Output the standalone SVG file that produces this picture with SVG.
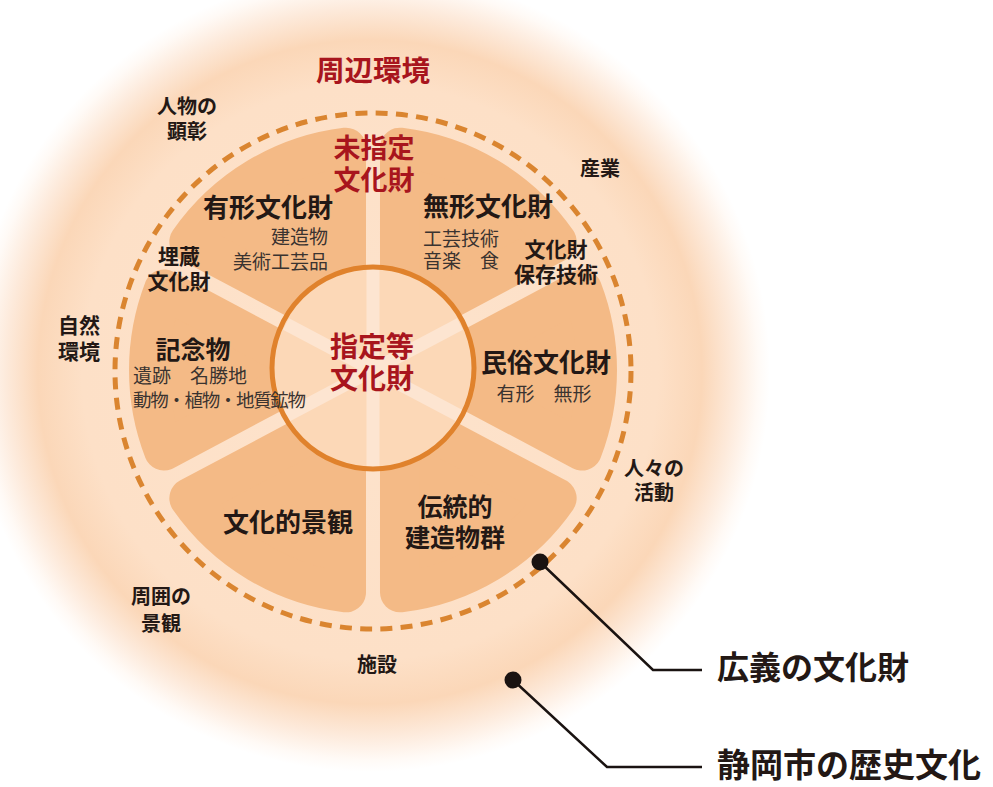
<svg xmlns="http://www.w3.org/2000/svg" width="993" height="787" viewBox="0 0 993 787">
  <defs>
    <radialGradient id="glow" gradientUnits="userSpaceOnUse" cx="370" cy="372" r="400">
      <stop offset="0" stop-color="#fde3cc"/>
      <stop offset="0.72" stop-color="#fde0c7"/>
      <stop offset="0.83" stop-color="#fbd7b8"/>
      <stop offset="0.91" stop-color="#fdeadb"/>
      <stop offset="0.97" stop-color="#fffaf6"/>
      <stop offset="1" stop-color="#ffffff"/>
    </radialGradient>
    <style>
      .wedge { fill: #f4ba86; stroke: #f4ba86; stroke-width: 40; stroke-linejoin: round; }
      .gap { stroke: #fde5d1; stroke-width: 13; stroke-linecap: butt; }
      .t { font-family: "Noto Sans CJK JP", "Noto Sans", sans-serif; fill: #231815; }
      .b { font-weight: 700; }
      .r { font-weight: 400; fill: #3a3330; }
      .red { fill: #a8151d; font-weight: 700; }
      .mid { text-anchor: middle; }
      .lead { fill: none; stroke: #1a1311; stroke-width: 2.5; }
      .dot { fill: #1a1311; }
    </style>
  </defs>

  <rect x="0" y="0" width="993" height="787" fill="#ffffff"/>
  <circle cx="370" cy="372" r="400" fill="url(#glow)"/>

  <!-- dashed boundary (広義の文化財) -->
  <circle id="ring-broad" cx="373" cy="371" r="258" fill="none" stroke="#da8530" stroke-width="5" stroke-dasharray="12 8.3"/>

  <!-- wedges -->
  <g id="node-mukei"><path class="wedge" d="M399.99,325.08 L556.66,241.76 A224,224 0 0 0 399.99,147.63 Z"/></g>
  <g id="node-yukei"><path class="wedge" d="M346.01,325.08 L346.01,147.63 A224,224 0 0 0 189.34,241.76 Z"/></g>
  <g id="node-kinenbutsu"><path class="wedge" d="M315.5,370 L163.99,289.43 A224,224 0 0 0 163.99,450.57 Z"/></g>
  <g id="node-keikan"><path class="wedge" d="M346.01,414.92 L189.34,498.24 A224,224 0 0 0 346.01,592.37 Z"/></g>
  <g id="node-dentou"><path class="wedge" d="M399.99,414.92 L399.99,592.37 A224,224 0 0 0 556.66,498.24 Z"/></g>
  <g id="node-minzoku"><path class="wedge" d="M430.5,370 L582.01,450.57 A224,224 0 0 0 582.01,289.43 Z"/></g>

  <!-- inner circle 指定等文化財 -->
  <g id="node-shitei">
    <circle cx="373" cy="368" r="101" fill="#fcd8b7"/>
    <g class="gap">
      <line x1="373" y1="370" x2="373" y2="268"/>
      <line x1="373" y1="370" x2="373" y2="468"/>
      <line x1="373" y1="370" x2="286" y2="324"/>
      <line x1="373" y1="370" x2="460" y2="324"/>
      <line x1="373" y1="370" x2="286" y2="416"/>
      <line x1="373" y1="370" x2="460" y2="416"/>
    </g>
    <circle cx="373" cy="368" r="101" fill="none" stroke="#e0822c" stroke-width="5"/>
    <text class="t red mid" font-size="28"><tspan x="372" y="357">指定等</tspan><tspan x="372" y="389">文化財</tspan></text>
  </g>

  <!-- labels in wedges -->
  <g id="label-mishitei">
    <text class="t red mid" font-size="27"><tspan x="374" y="158">未指定</tspan><tspan x="374" y="190">文化財</tspan></text>
  </g>
  <g id="label-yukei">
    <text class="t b mid" x="268" y="217" font-size="26">有形文化財</text>
    <text class="t r" font-size="19" text-anchor="end"><tspan x="328" y="244">建造物</tspan><tspan x="328" y="269">美術工芸品</tspan></text>
  </g>
  <g id="label-maizou">
    <text class="t b mid" font-size="21"><tspan x="179" y="264">埋蔵</tspan><tspan x="179" y="289">文化財</tspan></text>
  </g>
  <g id="label-mukei">
    <text class="t b mid" x="488" y="216" font-size="26">無形文化財</text>
    <text class="t r" font-size="19"><tspan x="423" y="246">工芸技術</tspan><tspan x="423" y="268">音楽　食</tspan></text>
  </g>
  <g id="label-hozon">
    <text class="t b mid" font-size="21"><tspan x="556" y="257">文化財</tspan><tspan x="556" y="282">保存技術</tspan></text>
  </g>
  <g id="label-kinenbutsu">
    <text class="t b mid" x="193" y="359" font-size="25">記念物</text>
    <text class="t r" font-size="19"><tspan x="133" y="383">遺跡　名勝地</tspan><tspan x="133" y="407" font-size="18.5" textLength="173" lengthAdjust="spacing">動物・植物・地質鉱物</tspan></text>
  </g>
  <g id="label-minzoku">
    <text class="t b mid" x="546" y="372" font-size="26">民俗文化財</text>
    <text class="t r mid" x="544" y="401" font-size="19">有形　無形</text>
  </g>
  <g id="label-keikan">
    <text class="t b mid" x="288" y="532" font-size="26">文化的景観</text>
  </g>
  <g id="label-dentou">
    <text class="t b mid" font-size="25"><tspan x="455" y="516">伝統的</tspan><tspan x="455" y="547">建造物群</tspan></text>
  </g>

  <!-- surrounding environment labels -->
  <g id="node-shuhen">
    <text class="t red mid" x="373" y="81" font-size="28.5">周辺環境</text>
  </g>
  <g id="node-jinbutsu">
    <text class="t b mid" font-size="20"><tspan x="187" y="114">人物の</tspan><tspan x="187" y="139">顕彰</tspan></text>
  </g>
  <g id="node-sangyou">
    <text class="t b mid" x="600" y="176" font-size="20">産業</text>
  </g>
  <g id="node-shizen">
    <text class="t b mid" font-size="21"><tspan x="79" y="333">自然</tspan><tspan x="79" y="359">環境</tspan></text>
  </g>
  <g id="node-hitobito">
    <text class="t b mid" font-size="20"><tspan x="654" y="476">人々の</tspan><tspan x="654" y="500">活動</tspan></text>
  </g>
  <g id="node-shui">
    <text class="t b mid" font-size="20"><tspan x="161" y="604">周囲の</tspan><tspan x="161" y="631">景観</tspan></text>
  </g>
  <g id="node-shisetsu">
    <text class="t b mid" x="377" y="672" font-size="20">施設</text>
  </g>

  <!-- callout connectors -->
  <g id="connectors">
    <polyline class="lead" points="540,562 653,670 702,670"/>
    <circle class="dot" cx="540" cy="562" r="8.5"/>
    <polyline class="lead" points="513,680 607,767 702,767"/>
    <circle class="dot" cx="513" cy="680" r="8.5"/>
  </g>
  <g id="node-kougi">
    <text class="t b" x="717" y="679" font-size="32">広義の文化財</text>
  </g>
  <g id="node-rekishi">
    <text class="t b" x="717" y="777" font-size="33">静岡市の歴史文化</text>
  </g>
</svg>
